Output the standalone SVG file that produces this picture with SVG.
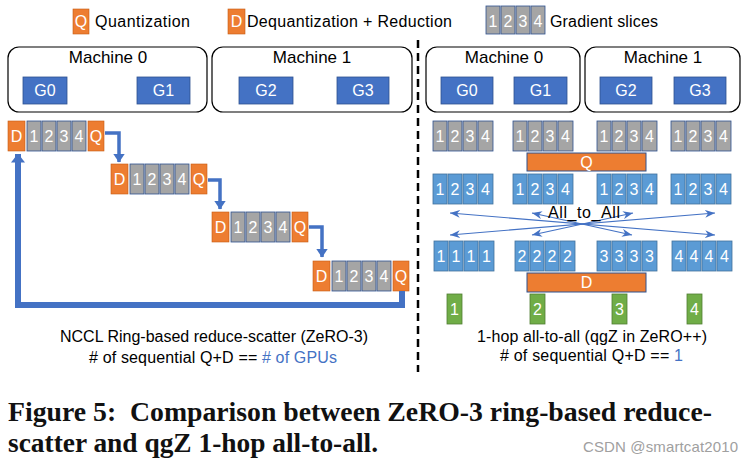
<svg xmlns="http://www.w3.org/2000/svg" xmlns:xlink="http://www.w3.org/1999/xlink" width="750" height="469" viewBox="0 0 750 469">
<style>
  text { font-family: "Liberation Sans", Arial, sans-serif; }
  .lbl { font-size: 16px; fill: #000; }
  .mach { font-size: 17px; fill: #000; text-anchor: middle; }
  .wt { font-size: 16px; fill: #fff; text-anchor: middle; }
  .machine { fill: #fff; stroke: #000; stroke-width: 1.2; }
  .gpu { fill: #4472C4; stroke: #2F528F; stroke-width: 0.8; }
  .gray { fill: #A5A5A5; stroke: #2F528F; stroke-width: 0.8; }
  .blue { fill: #5B9BD5; stroke: #41719C; stroke-width: 0.8; }
  .org { fill: #ED7D31; stroke: #C55A11; stroke-width: 0.6; }
  .bar { fill: #ED7D31; stroke: #2F528F; stroke-width: 1; }
  .grn { fill: #70AD47; stroke: #507E32; stroke-width: 0.8; }
  .elbow { fill: none; stroke: #4472C4; stroke-width: 3.5; }
  .ring { fill: none; stroke: #4472C4; stroke-width: 6; }
  .x { stroke: #4472C4; stroke-width: 1.2; }
  .cap { font-family: "Liberation Serif", "Times New Roman", serif; font-weight: bold; font-size: 27px; fill: #111; }
</style>
<defs>
  <marker id="ah" markerUnits="userSpaceOnUse" viewBox="0 0 9 12" refX="8.5" refY="6" markerWidth="9" markerHeight="12" orient="auto">
    <path d="M0 0 L9 6 L0 12 Z" fill="#4472C4"/>
  </marker>
  <marker id="ahBig" markerUnits="userSpaceOnUse" viewBox="0 0 9 14" refX="8.5" refY="7" markerWidth="9" markerHeight="14" orient="auto">
    <path d="M0 0 L9 7 L0 14 Z" fill="#4472C4"/>
  </marker>
  <marker id="sm" markerUnits="userSpaceOnUse" viewBox="0 0 10 8" refX="10" refY="4" markerWidth="10" markerHeight="8" orient="auto-start-reverse">
    <path d="M0 0 L10 4 L0 8 L3 4 Z" fill="#4472C4"/>
  </marker>
  <g id="ringRow">
    <rect class="org" x="0" y="0" width="17" height="30"/>
    <text class="wt" x="8.5" y="21">D</text>
    <rect class="gray" x="19" y="0" width="14" height="30"/>
    <rect class="gray" x="34" y="0" width="14" height="30"/>
    <rect class="gray" x="49" y="0" width="14" height="30"/>
    <rect class="gray" x="64" y="0" width="14" height="30"/>
    <text class="wt" x="26" y="21">1</text>
    <text class="wt" x="41" y="21">2</text>
    <text class="wt" x="56" y="21">3</text>
    <text class="wt" x="71" y="21">4</text>
    <rect class="org" x="80" y="0" width="16" height="30"/>
    <text class="wt" x="88" y="21">Q</text>
  </g>
  <g id="quadBoxes">
    <rect x="0" y="0" width="14" height="30"/>
    <rect x="15" y="0" width="14" height="30"/>
    <rect x="30" y="0" width="14" height="30"/>
    <rect x="45" y="0" width="15" height="30"/>
  </g>
</defs>

<!-- Legend -->
<g id="legend">
  <rect class="org" x="73" y="9" width="16" height="25"/>
  <text class="wt" x="81" y="27">Q</text>
  <text class="lbl" x="95" y="27" textLength="95">Quantization</text>
  <rect class="org" x="228" y="9" width="17" height="25"/>
  <text class="wt" x="236.5" y="27">D</text>
  <text class="lbl" x="247" y="27" textLength="205">Dequantization + Reduction</text>
  <g class="gray">
    <rect x="486" y="6" width="14" height="28"/>
    <rect x="501" y="6" width="14" height="28"/>
    <rect x="516" y="6" width="14" height="28"/>
    <rect x="531" y="6" width="14" height="28"/>
  </g>
  <text class="wt" x="493" y="27">1</text>
  <text class="wt" x="508" y="27">2</text>
  <text class="wt" x="523" y="27">3</text>
  <text class="wt" x="538" y="27">4</text>
  <text class="lbl" x="550" y="27" textLength="108">Gradient slices</text>
</g>

<!-- Divider -->
<line id="divider" x1="418" y1="40" x2="418" y2="372" stroke="#000" stroke-width="2.5" stroke-dasharray="8,5"/>

<!-- Left machines -->
<g id="L-machine0">
  <rect class="machine" x="8" y="47" width="199" height="65" rx="11"/>
  <text class="mach" x="108" y="63">Machine 0</text>
  <rect class="gpu" x="23" y="77" width="44" height="27"/>
  <text class="wt" x="45" y="96">G0</text>
  <rect class="gpu" x="137" y="77" width="53" height="27"/>
  <text class="wt" x="163.5" y="96">G1</text>
</g>
<g id="L-machine1">
  <rect class="machine" x="212" y="47" width="200" height="65" rx="11"/>
  <text class="mach" x="312" y="63">Machine 1</text>
  <rect class="gpu" x="239" y="77" width="54" height="27"/>
  <text class="wt" x="266" y="96">G2</text>
  <rect class="gpu" x="337" y="77" width="52" height="27"/>
  <text class="wt" x="363" y="96">G3</text>
</g>

<!-- Right machines -->
<g id="R-machine0">
  <rect class="machine" x="426" y="47" width="154" height="65" rx="11"/>
  <text class="mach" x="504" y="63">Machine 0</text>
  <rect class="gpu" x="441" y="77" width="52" height="27"/>
  <text class="wt" x="467" y="96">G0</text>
  <rect class="gpu" x="514" y="77" width="53" height="27"/>
  <text class="wt" x="540.5" y="96">G1</text>
</g>
<g id="R-machine1">
  <rect class="machine" x="585" y="47" width="155" height="65" rx="11"/>
  <text class="mach" x="663" y="63">Machine 1</text>
  <rect class="gpu" x="600" y="77" width="52" height="27"/>
  <text class="wt" x="626" y="96">G2</text>
  <rect class="gpu" x="674" y="77" width="52" height="27"/>
  <text class="wt" x="700" y="96">G3</text>
</g>

<!-- Left ring rows -->
<g id="ring-row0"><use xlink:href="#ringRow" href="#ringRow" x="8" y="121"/></g>
<g id="ring-row1"><use xlink:href="#ringRow" href="#ringRow" x="111" y="164"/></g>
<g id="ring-row2"><use xlink:href="#ringRow" href="#ringRow" x="212" y="212"/></g>
<g id="ring-row3"><use xlink:href="#ringRow" href="#ringRow" x="313" y="261"/></g>

<!-- Right rows -->
<g id="row-gray">
  <g class="gray">
    <use href="#quadBoxes" xlink:href="#quadBoxes" x="433" y="121"/>
    <use href="#quadBoxes" xlink:href="#quadBoxes" x="513" y="121"/>
    <use href="#quadBoxes" xlink:href="#quadBoxes" x="597" y="121"/>
    <use href="#quadBoxes" xlink:href="#quadBoxes" x="671" y="121"/>
  </g>
  <g class="wt">
    <text x="440" y="142">1</text><text x="455" y="142">2</text><text x="470" y="142">3</text><text x="485.5" y="142">4</text>
    <text x="520" y="142">1</text><text x="535" y="142">2</text><text x="550" y="142">3</text><text x="565.5" y="142">4</text>
    <text x="604" y="142">1</text><text x="619" y="142">2</text><text x="634" y="142">3</text><text x="649.5" y="142">4</text>
    <text x="678" y="142">1</text><text x="693" y="142">2</text><text x="708" y="142">3</text><text x="723.5" y="142">4</text>
  </g>
</g>
<g id="Q-bar">
  <rect class="bar" x="527" y="153" width="119" height="18"/>
  <text class="wt" x="586.5" y="168">Q</text>
</g>
<g id="row-blue">
  <g class="blue">
    <use href="#quadBoxes" xlink:href="#quadBoxes" x="433" y="174"/>
    <use href="#quadBoxes" xlink:href="#quadBoxes" x="513" y="174"/>
    <use href="#quadBoxes" xlink:href="#quadBoxes" x="597" y="174"/>
    <use href="#quadBoxes" xlink:href="#quadBoxes" x="671" y="174"/>
  </g>
  <g class="wt">
    <text x="440" y="195">1</text><text x="455" y="195">2</text><text x="470" y="195">3</text><text x="485.5" y="195">4</text>
    <text x="520" y="195">1</text><text x="535" y="195">2</text><text x="550" y="195">3</text><text x="565.5" y="195">4</text>
    <text x="604" y="195">1</text><text x="619" y="195">2</text><text x="634" y="195">3</text><text x="649.5" y="195">4</text>
    <text x="678" y="195">1</text><text x="693" y="195">2</text><text x="708" y="195">3</text><text x="723.5" y="195">4</text>
  </g>
</g>
<g id="row-gathered">
  <g class="blue">
    <use href="#quadBoxes" xlink:href="#quadBoxes" x="434" y="241"/>
    <use href="#quadBoxes" xlink:href="#quadBoxes" x="515" y="241"/>
    <use href="#quadBoxes" xlink:href="#quadBoxes" x="597" y="241"/>
    <use href="#quadBoxes" xlink:href="#quadBoxes" x="672" y="241"/>
  </g>
  <g class="wt">
    <text x="441" y="262">1</text><text x="456" y="262">1</text><text x="471" y="262">1</text><text x="486.5" y="262">1</text>
    <text x="522" y="262">2</text><text x="537" y="262">2</text><text x="552" y="262">2</text><text x="567.5" y="262">2</text>
    <text x="604" y="262">3</text><text x="619" y="262">3</text><text x="634" y="262">3</text><text x="649.5" y="262">3</text>
    <text x="679" y="262">4</text><text x="694" y="262">4</text><text x="709" y="262">4</text><text x="724.5" y="262">4</text>
  </g>
</g>
<g id="D-bar">
  <rect class="bar" x="527" y="273" width="119" height="19"/>
  <text class="wt" x="586.5" y="288">D</text>
</g>
<g id="results">
  <rect class="grn" x="447" y="294" width="15" height="30"/>
  <text class="wt" x="454.5" y="315">1</text>
  <rect class="grn" x="530" y="294" width="15" height="30"/>
  <text class="wt" x="537.5" y="315">2</text>
  <rect class="grn" x="612" y="294" width="15" height="30"/>
  <text class="wt" x="619.5" y="315">3</text>
  <rect class="grn" x="687" y="294" width="15" height="30"/>
  <text class="wt" x="694.5" y="315">4</text>
</g>

<!-- Connectors -->
<g id="connectors">
  <path class="elbow" d="M105 133 H119 V162" marker-end="url(#ah)"/>
  <path class="elbow" d="M208 180 H220 V209" marker-end="url(#ah)"/>
  <path class="elbow" d="M309 227 H322 V257" marker-end="url(#ah)"/>
  <path class="ring" d="M402 291 V305 H18 V154" marker-end="url(#ahBig)"/>
  <line class="x" x1="450" y1="213" x2="715" y2="235" marker-start="url(#sm)" marker-end="url(#sm)"/>
  <line class="x" x1="715" y1="213" x2="450" y2="235" marker-start="url(#sm)" marker-end="url(#sm)"/>
  <line class="x" x1="532" y1="213" x2="632" y2="235" marker-start="url(#sm)" marker-end="url(#sm)"/>
  <line class="x" x1="633" y1="213" x2="532" y2="235" marker-start="url(#sm)" marker-end="url(#sm)"/>
</g>
<text class="lbl" x="548" y="218" textLength="72">All_to_All</text>

<!-- Bottom labels -->
<g id="labels">
  <text class="lbl" x="60" y="342" textLength="308">NCCL Ring-based reduce-scatter (ZeRO-3)</text>
  <text class="lbl" x="89" y="363" textLength="248"># of sequential Q+D == <tspan fill="#4472C4"># of GPUs</tspan></text>
  <text class="lbl" x="477" y="342" textLength="230">1-hop all-to-all (qgZ in ZeRO++)</text>
  <text class="lbl" x="500" y="361" textLength="183"># of sequential Q+D == <tspan fill="#4472C4">1</tspan></text>
</g>

<!-- Caption -->
<text class="cap" x="8" y="421" textLength="704" lengthAdjust="spacingAndGlyphs" xml:space="preserve">Figure 5:  Comparison between ZeRO-3 ring-based reduce-</text>
<text class="cap" x="8" y="452" textLength="370" lengthAdjust="spacingAndGlyphs">scatter and qgZ 1-hop all-to-all.</text>
<text x="583" y="452" font-size="15" fill="#a0a0a0" textLength="155">CSDN @smartcat2010</text>
</svg>
